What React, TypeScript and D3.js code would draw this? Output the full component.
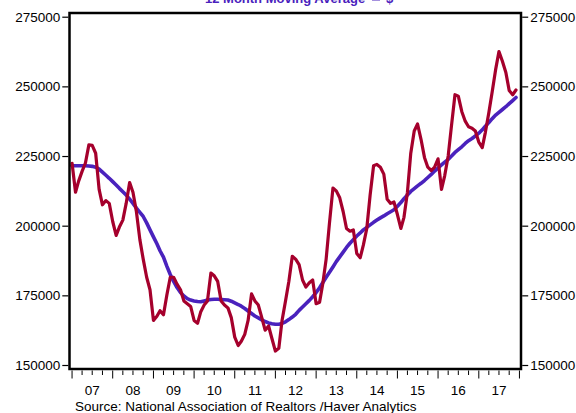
import { useRef, useEffect } from 'react';
import * as d3 from 'd3';

// Monthly, Jan 2007 .. Dec 2017
const startMonth = new Date(2007, 0, 1);

const salesPrice = [
  222400, 212000, 216000, 219500, 222500, 229000, 228800, 226000, 213000, 207500, 209000, 208000,
  201500, 196500, 199500, 202000, 208000, 215500, 212000, 205000, 195000, 188000, 181500, 177000,
  166000, 167500, 169500, 168000, 175000, 181500, 181500, 179000, 177000, 173000, 172000, 171000,
  166000, 165000, 169000, 171500, 173000, 183000, 182000, 180000, 173000, 171500, 170500, 167000,
  160000, 157000, 158500, 161000, 166000, 175500, 173000, 171500, 167000, 162500, 164000, 159500,
  155000, 156000, 166000, 173000, 180000, 189000, 188000, 186000, 180500, 178000, 179500, 180500,
  172000, 172500, 179000, 188000, 201000, 213500, 212500, 210000, 205000, 199000, 198000, 198500,
  190000, 188500, 193000, 199000, 211000, 221500, 222000, 221000, 218500, 209500, 208000, 208500,
  204000, 199000, 203000, 212000, 226000, 234000, 236500, 231000, 224500, 221000, 219800, 221000,
  224000, 213000, 218000, 225000, 236000, 247000, 246500, 241000, 237500, 235500, 235000, 234000,
  230000, 228000, 233500, 240500, 248000, 256000, 262500, 259000, 255000, 248500, 247000, 248700,
];

const movingAvg = [
  221500, 221500, 221500, 221500, 221500, 221400, 221300, 221000, 220300, 219200, 218100, 217000,
  215800, 214600, 213400, 212200, 211000, 209500, 208000, 206300, 204800, 203300, 201000, 198500,
  196000, 193500, 191000, 188700, 185500, 182500, 180000, 177800, 176000, 174800, 173800, 173300,
  173000, 172800, 172700, 173000, 173300, 173500, 173600, 173600, 173500, 173400, 173300, 172900,
  172300, 171700, 171100, 170300, 169400, 168500, 167600, 166900, 166200, 165600, 165100, 164800,
  164600, 164600, 164900, 165500, 166300, 167200, 168200, 169600, 170800, 172000, 173200, 174500,
  176000, 177700, 179500, 181500, 183300, 185200, 187100, 188800, 190500, 192200, 193700, 195000,
  196300, 197400, 198500, 199400, 200300, 201200, 202000, 202800, 203500, 204300, 205000, 205700,
  207000, 208300, 209700, 211000, 212300, 213300, 214300, 215200, 216200, 217300, 218400, 219600,
  220700, 221800, 222800, 223800, 225000, 226300, 227300, 228300, 229500, 230500, 231300, 232200,
  233200, 234400, 235700, 237000, 238400, 239700, 240700, 241700, 242700, 243800, 244900, 246000,
];

const yTicks = [150000, 175000, 200000, 225000, 250000, 275000];
const yearLabels = ['07', '08', '09', '10', '11', '12', '13', '14', '15', '16', '17'];
const titleText = '12 Month Moving Average';
const titleUnit = '$';
const sourceText = 'Source:  National Association of Realtors /Haver Analytics';

const RED = '#a5002c';
const BLUE = '#4a22bd';
const FONT = '"Liberation Sans", Arial, Helvetica, sans-serif';

export default function App() {
  const svgRef = useRef<SVGSVGElement>(null);

  useEffect(() => {
    if (!svgRef.current) return;
    const el = svgRef.current;
    const svg = d3.select(el);
    svg.selectAll('*').remove();

    const left = 69.5, right = 521, top = 13, bottom = 369;

    const x = d3.scaleTime()
      .domain([new Date(2006, 11, 9), new Date(2018, 0, 15)])
      .range([left, right]);
    const y = d3.scaleLinear().domain([148565, 276330]).range([bottom, top]);

    const dates = salesPrice.map((_, i) => d3.timeMonth.offset(startMonth, i));

    svg.append('rect').attr('width', 576).attr('height', 413).attr('fill', '#fff');

    // legend title, cut off by the top of the page as in the source image
    const title = svg.append('text')
      .attr('y', 3)
      .attr('font-family', FONT).attr('font-size', 13).attr('font-weight', 'bold')
      .attr('fill', BLUE);
    title.append('tspan').attr('x', 205).text(titleText);
    title.append('tspan').attr('x', 386).text(titleUnit);
    svg.append('line')
      .attr('x1', 372).attr('x2', 380).attr('y1', -1).attr('y2', -1)
      .attr('stroke', BLUE).attr('stroke-width', 3);

    // lines
    const line = (vals: number[]) => d3.line<number>()
      .x((_, i) => x(dates[i]))
      .y((d) => y(d))(vals);

    svg.append('path').attr('d', line(movingAvg))
      .attr('fill', 'none').attr('stroke', BLUE).attr('stroke-width', 3.6)
      .attr('stroke-linejoin', 'round').attr('stroke-linecap', 'round');
    svg.append('path').attr('d', line(salesPrice))
      .attr('fill', 'none').attr('stroke', RED).attr('stroke-width', 3.2)
      .attr('stroke-linejoin', 'round').attr('stroke-linecap', 'round');

    // frame
    svg.append('rect')
      .attr('x', left).attr('y', top).attr('width', right - left).attr('height', bottom - top)
      .attr('fill', 'none').attr('stroke', '#000').attr('stroke-width', 2.5);

    // y axes
    const styleAxis = (g: d3.Selection<SVGGElement, unknown, null, undefined>) => {
      g.select('.domain').remove();
      g.selectAll('line').attr('stroke', '#000').attr('stroke-width', 1.2);
      g.selectAll('text').attr('fill', '#000').attr('font-family', FONT).attr('font-size', 13.5);
    };
    svg.append('g').attr('transform', `translate(${left - 1.2},0)`)
      .call(d3.axisLeft(y).tickValues(yTicks).tickSize(6).tickPadding(2).tickFormat(d3.format('d')))
      .call(styleAxis);
    svg.append('g').attr('transform', `translate(${right + 1.2},0)`)
      .call(d3.axisRight(y).tickValues(yTicks).tickSize(6).tickPadding(2).tickFormat(d3.format('d')))
      .call(styleAxis);

    // x ticks: quarterly, longer at year starts
    const quarters = d3.timeMonth.every(3)!.range(new Date(2007, 0, 1), new Date(2018, 0, 2));
    svg.append('g').selectAll('line').data(quarters).join('line')
      .attr('x1', (d) => x(d)).attr('x2', (d) => x(d))
      .attr('y1', bottom + 1.5)
      .attr('y2', (d) => bottom + (d.getMonth() === 0 ? 9.5 : 6))
      .attr('stroke', '#000').attr('stroke-width', 1);

    svg.append('g').selectAll('text').data(yearLabels).join('text')
      .attr('x', (_, i) => x(new Date(2007 + i, 6, 1)))
      .attr('y', 395)
      .attr('text-anchor', 'middle')
      .attr('font-family', FONT).attr('font-size', 13.5).attr('fill', '#000')
      .text((d) => d);

    svg.append('text')
      .attr('x', 75).attr('y', 411)
      .attr('font-family', FONT).attr('font-size', 13.5).attr('fill', '#000')
      .text(sourceText);
  }, []);

  return (
    <svg ref={svgRef} width={576} height={413}
      style={{ position: 'absolute', left: 0, top: 0, display: 'block' }} />
  );
}
